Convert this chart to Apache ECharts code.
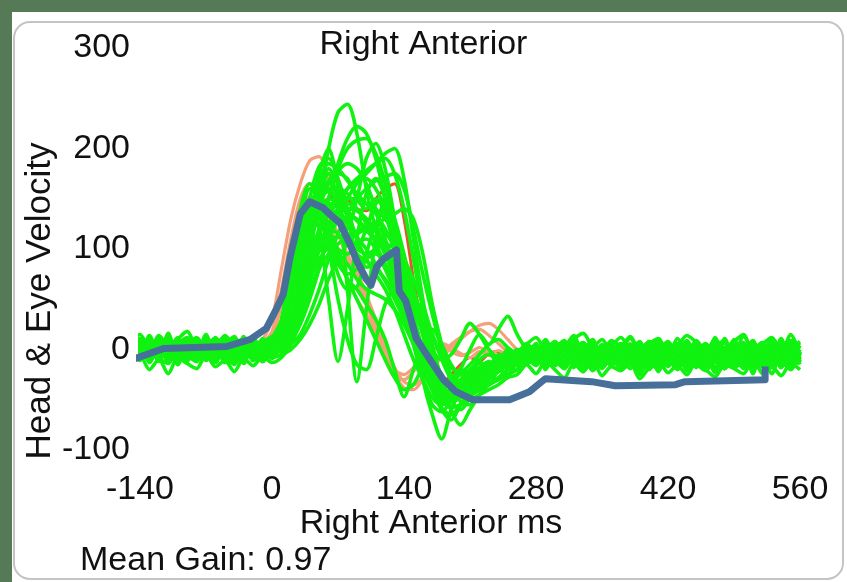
<!DOCTYPE html>
<html>
<head>
<meta charset="utf-8">
<script src="https://cdn.jsdelivr.net/npm/echarts@6/dist/echarts.min.js"></script>
<style>
html,body{margin:0;padding:0;background:#fff;}
#chart{width:847px;height:582px;}
</style>
</head>
<body>
<div id="chart"></div>
<script>
// ---------- data ----------
const chartTitle = "Right Anterior";
const xAxisTitle = "Right Anterior ms";
const yAxisTitle = "Head & Eye Velocity";
const footnote = "Mean Gain: 0.97";
const xTicks = [-140, 0, 140, 280, 420, 560];
const yTicks = [-100, 0, 100, 200, 300];

// shared sample times (ms) for the head/eye traces
const timeMs = [-150,-140,-130,-120,-110,-100,-90,-80,-70,-60,-50,-40,-30,-20,-10,0,
  10,20,30,40,50,60,70,80,90,100,110,120,130,140,150,160,170,180,190,200,210,220,230,240,250,260,
  270,280,290,300,310,320,330,340,350,360,370,380,390,400,410,420,430,440,450,460,470,480,490,500,510,520,530,540,550,560];

// head velocity traces (green)
const head01 = [-3,6,-8,4,-10,2,9,-5,3,-12,5,-2,8,-6,1,4, 12,30,62,105,150,200,236, 244,215,160,120,95,80,55,20,-15,-35,-45,-40,-30,-22,-14,-20,-8,-12,-4, -10,2,-14,-3,-18,-6,4,-9,-15,-2,6,-11,-4,-16,-1,8,-8,-13,0,-7,-19,-3,5,-10,-6,-14,2,-9,-4,-12];
const head02 = [5,-4,10,-7,3,-11,6,-2,12,-5,-9,7,-3,9,-6,0, 8,22,55,100,148,175,150, 120,150,190,205,180,130,80,35,0,-25,-38,-30,-20,-26,-12,-18,-5,-9,0, -4,-12,3,-8,-17,-1,7,-10,-5,-14,2,-7,-19,-4,6,-12,-2,-9,5,-15,-6,1,-11,-3,-16,4,-8,-13,-1,-6];
const head03 = [-8,3,-2,11,-6,7,-12,2,-4,8,0,-9,4,-3,10,-1, 6,40,95,150,182,190,170, 140,110,90,75,60,40,15,-10,-30,-48,-55,-50,-42,-30,-25,-16,-20,-10,-6, 1,-8,-14,3,-6,-11,6,-4,-17,-9,-1,5,-13,-7,0,-15,-3,9,-10,-5,-12,2,-8,-18,-2,7,-11,-6,3,-9];
const head04 = [2,-9,7,-4,12,-1,-7,5,-11,3,9,-5,-2,6,-8,3, 15,55,110,150,120,50,-12, 40,110,155,170,150,100,50,10,-20,-40,-52,-45,-38,-30,-22,-26,-14,-8,-12, -2,4,-10,-16,-5,2,-12,-7,5,-14,-3,-9,3,-18,-6,0,-11,-4,8,-13,-7,-1,-15,4,-9,-5,-17,-2,6,-10];
const head05 = [9,-3,1,-10,4,8,-6,-1,6,-8,2,11,-4,-7,5,-2, 10,35,80,130,175,200,160, 60,-32,40,110,150,120,70,20,-15,-40,-60,-70,-55,-40,-30,-35,-20,-15,-8, -6,2,-13,-8,4,-15,-3,-10,1,-7,-18,-5,3,-12,-9,6,-4,-16,-1,-11,2,-8,-14,-3,9,-12,-6,0,-10,-5];
const head06 = [-5,4,-12,1,7,-3,10,-8,0,5,-6,3,-10,2,8,-4, 0,10,30,55,85,110,130, 150,165,175,185,195,200,170,110,50,5,-30,-60,-75,-60,-45,-30,-20,-25,-12, -5,-14,0,-9,-3,5,-16,-7,-11,2,-4,-13,7,-8,-2,-17,-5,1,-12,-6,4,-10,-15,-1,6,-9,-3,-14,0,-7];
const head07 = [4,-6,9,-1,-9,6,2,-12,7,0,-4,10,-7,3,-2,6, 10,28,60,100,140,165,178, 185,180,165,140,110,85,60,30,0,-20,-35,-45,-38,-28,-18,-24,-10,-16,-6, -9,3,-5,-12,-1,7,-8,-15,-4,2,-11,-6,5,-14,-2,-9,1,-17,-7,4,-3,-12,-8,0,-15,-5,3,-10,-4,-13];
const head08 = [-10,1,5,-4,8,-7,3,11,-2,-9,4,-5,7,-11,0,2, 18,50,90,120,130,115,100, 95,105,110,100,80,60,45,40,25,0,-10,-5,10,26,15,0,-8,-3,-10, 3,-7,-15,-2,6,-10,-4,-13,1,-8,-16,-3,8,-9,-5,-12,2,-6,-18,-1,5,-11,-7,-14,0,-4,7,-13,-2,-8];
const head09 = [7,-2,-8,5,0,12,-5,4,-10,6,-3,1,9,-6,3,-8, 5,25,55,90,120,140,150, 160,168,170,160,140,110,70,20,-30,-65,-89,-60,-40,-30,-22,-15,-20,-8,-12, -4,5,-11,-6,-16,0,-9,3,-13,-7,-2,-15,6,-10,-5,-12,1,-8,-3,-17,4,-6,-11,-1,-14,2,-9,-5,7,-12];
const head10 = [-1,8,-6,3,-11,5,0,-4,10,-8,6,-3,2,-9,4,7, 25,70,125,160,150,120,90, 70,50,30,10,-10,-28,-40,-35,-20,-30,-45,-40,-20,0,15,5,20,33,15, 0,-8,-3,5,-12,-6,2,-15,-9,4,-4,-11,-1,8,-13,-7,0,-10,-16,-3,6,-8,-12,1,-5,-14,-2,3,-9,-6];
const head11 = [3,-7,6,1,-5,-12,8,-3,5,11,-6,0,-8,4,-4,9, 2,15,40,75,115,150,180, 200,208,210,195,165,120,70,25,-10,-35,-50,-45,-35,-25,-30,-18,-12,-20,-8, -1,-10,4,-6,-14,-3,7,-11,-5,1,-17,-8,3,-4,-12,5,-9,-2,-15,-6,8,-13,-1,-7,2,-16,-4,6,-11,-3];
const head12 = [-6,5,2,-9,10,-3,-1,7,-7,1,12,-4,5,-10,-3,0, 4,18,45,95,150,180,165, 130,100,120,145,150,130,95,55,15,-20,-42,-50,-40,-32,-20,-26,-14,-8,-16, -7,1,-12,-4,5,-9,-15,0,-6,3,-13,-2,-10,6,-8,-16,-1,4,-11,-5,0,-14,-7,2,-9,-3,-18,5,-6,-1];
const head13 = [1,-4,11,-8,2,6,-10,0,4,-6,8,-2,-11,7,1,-5, 10,45,100,135,140,120,95, 70,60,45,30,10,-20,-47,-20,5,20,5,-15,-25,-20,-10,-5,-12,0,-6, -12,-3,6,-9,-1,-14,3,-7,-5,-16,0,5,-10,-4,-13,2,-8,-6,7,-11,-2,-15,-9,1,-4,-12,4,-7,-17,-2];
const head14 = [-9,0,6,-3,-7,9,1,-11,3,8,-1,-6,11,-4,-9,2, 0,8,25,50,80,115,140, 160,170,178,185,190,175,140,90,40,0,-30,-50,-60,-48,-35,-25,-18,-10,-15, -5,2,-9,-13,0,-6,6,-12,-3,-8,-15,3,-7,-1,-11,5,-14,-4,-9,1,-17,-6,4,-10,-2,-13,7,-5,-8,-12];
const head15 = [6,-11,3,8,-4,-2,5,-9,1,-5,10,-7,0,4,-12,7, 12,38,78,120,150,168,175, 170,150,140,150,135,100,60,20,-15,-38,-48,-40,-32,-22,-28,-15,-10,-18,-5, -10,-4,3,-14,-7,0,-11,5,-6,-16,-2,-9,4,-13,-5,1,-10,-18,-3,6,-8,-12,0,-6,-15,3,-9,-4,-11,-7];
const head16 = [-4,9,-1,-6,5,-10,8,3,-7,2,-5,6,-1,10,-6,-3, 20,60,105,135,150,158,160, 155,140,130,120,105,80,50,25,0,-22,-35,-32,-25,-30,-18,-12,-20,-6,-10, -3,-9,1,-15,-6,4,-12,-2,-8,-14,5,-5,-10,0,-17,-7,2,-4,-13,-9,6,-1,-11,-16,-3,3,-8,-6,-14,0];
const head17 = [8,15,2,12,-1,10,18,4,9,0,14,6,11,-2,7,13, 20,45,85,120,140,150,145, 135,130,120,110,95,70,40,10,-20,-40,-50,-48,-42,-36,-30,-22,-15,-10,-5, 5,12,0,8,-4,10,16,2,-3,9,4,13,-1,6,11,-5,3,14,7,-2,10,1,8,15,-3,5,12,0,9,4];
const head18 = [-15,-6,-20,-10,-24,-8,-14,-19,-5,-17,-11,-22,-9,-16,-7,-13, -8,5,30,65,100,125,135, 140,138,130,118,100,80,55,25,-5,-30,-50,-58,-55,-50,-45,-40,-35,-28,-25, -15,-24,-12,-20,-28,-14,-22,-10,-26,-17,-21,-13,-29,-18,-11,-23,-16,-25,-12,-20,-27,-15,-19,-24,-10,-22,-17,-26,-14,-20];
const head19 = [12,-10,14,-8,16,-12,10,-6,15,-11,8,-14,13,-5,11,-9, 5,20,50,85,115,135,145, 150,150,145,140,130,115,90,60,25,-5,-25,-40,-45,-45,-40,-35,-30,-25,-20, -8,6,-20,2,-15,10,-22,0,-12,8,-18,4,-25,-3,9,-16,1,-21,5,-10,12,-19,-2,7,-24,3,-13,11,-17,-4];
const head20 = [-2,-10,3,-8,-14,0,-6,-12,2,-9,-4,-15,-1,-7,-11,-3, 0,10,30,55,80,95,105, 112,118,120,120,115,105,90,70,45,15,-10,-30,-40,-42,-38,-34,-30,-24,-20, -12,-6,-18,-9,-3,-15,-8,-20,-11,-5,-16,-7,-22,-13,-2,-10,-17,-6,-14,-21,-9,-4,-18,-12,-7,-24,-10,-15,-3,-13];
const head21 = [6,-3,9,1,-5,7,3,-8,10,0,5,-6,8,2,-4,11, 30,90,140,165,150,110,75, 60,62,95,125,140,120,70,25,-10,-35,-48,-52,-46,-38,-30,-28,-20,-16,-12, 2,-6,8,-3,-12,4,-9,1,10,-5,-14,3,-7,6,-2,-11,5,-8,9,-4,-13,0,7,-10,2,-6,11,-1,-9,4];
const head22 = [-6,3,-11,5,-2,8,-9,0,-4,6,-13,2,-7,9,-1,-5, 10,40,85,120,130,100,50, 10,-15,-20,10,45,60,40,5,-30,-55,-62,-50,-38,-30,-24,-18,-22,-12,-8, -14,-5,3,-10,-19,-2,5,-12,-7,-16,1,-9,-3,-20,-6,4,-13,-8,-1,-17,-4,6,-11,-15,-2,-9,2,-18,-7,-12];
const head23 = [3,11,-4,7,-8,5,12,-2,9,-6,4,13,-3,8,-9,6, -2,5,15,35,60,90,115, 135,150,160,168,172,175,160,120,75,35,0,-25,-40,-45,-40,-30,-22,-15,-10, 4,-3,10,-8,1,14,-5,7,-11,3,12,-2,-9,8,0,-6,11,-4,5,-12,2,9,-7,13,-1,-10,6,-3,15,-5];
const head24 = [-12,-3,6,-9,0,-15,4,-6,-10,2,-8,-14,5,-4,-11,1, 8,30,65,105,135,145,145, 138,128,118,110,100,88,72,55,35,15,-5,-18,-22,-15,-5,5,10,2,-5, -10,-2,-16,-7,3,-13,-5,-20,-9,0,-14,-6,-18,2,-11,-4,-15,-8,5,-12,-1,-17,-7,-3,-19,-9,1,-14,-6,-10];
const head25 = [5,-8,1,10,-4,-10,7,3,-6,12,-2,-9,4,8,-5,0, 0,12,35,70,110,150,185, 210,222,215,190,150,105,60,20,-15,-40,-58,-65,-55,-45,-35,-28,-20,-25,-12, -6,3,-12,-1,-17,5,-9,-4,-14,2,-8,-19,0,-11,7,-6,-15,-2,-10,4,-13,-7,1,-18,-3,6,-12,-8,-1,-15];
const head26 = [0,7,-5,14,2,-7,6,-1,11,-4,3,-10,8,-6,5,9, 14,48,100,140,158,160,140, 115,95,82,85,92,90,70,35,-5,-30,-42,-40,-34,-26,-18,-14,-20,-9,-13, 6,-4,-11,1,9,-7,-2,-15,4,-9,0,11,-6,-13,3,-3,-10,7,-8,-16,2,-5,10,-12,-1,-7,5,-14,0,8];
const head27 = [-7,-1,8,-12,3,-5,1,9,-9,-3,7,0,-14,4,-2,-8, -5,0,10,25,45,70,90, 105,115,120,125,130,135,140,130,95,45,5,-30,-52,-55,-45,-35,-28,-20,-15, -9,-16,-3,5,-12,-6,-20,-1,-10,3,-17,-7,-13,1,-22,-5,-11,4,-15,-8,-2,-19,-6,2,-14,-9,-24,-4,-11,-3];
const head28 = [10,2,-6,6,-11,1,-3,8,-7,4,13,-1,-8,3,-12,6, 15,42,88,130,165,185,180, 168,155,145,135,120,100,75,45,15,-15,-40,-48,-40,-30,-22,-16,-10,-14,-4, -13,0,-7,6,-16,-4,-9,2,-19,-6,5,-11,-1,-15,3,-8,-20,-2,7,-12,-5,-17,1,-9,4,-14,-6,-1,-18,-10];
const head29 = [4,-9,2,7,-6,11,-3,-10,5,1,-7,9,-2,6,-12,3, 25,65,100,118,125,122,115, 105,95,88,80,70,55,35,15,-8,-28,-42,-46,-40,-33,-26,-20,-15,-18,-9, -2,-11,5,-7,-15,0,-5,-13,3,-9,-18,-4,6,-10,-1,-14,2,-8,-16,-3,4,-12,-6,-19,-1,5,-9,-14,-4,-8];
const head30 = [-11,2,-5,9,-1,-8,4,12,-4,-13,6,-2,10,-7,0,-6, 5,22,50,78,98,110,112, 108,100,95,100,105,100,80,50,15,-15,-35,-45,-42,-36,-28,-22,-17,-12,-10, -8,2,-14,-5,4,-12,-1,-17,-6,3,-10,-15,1,-8,-20,-3,6,-11,-4,-13,0,-9,-16,-2,5,-7,-14,-1,-10,-5];
const head31 = [7,0,-6,3,9,-4,-11,5,2,-8,12,-1,-5,8,-9,1, 8,35,72,100,115,105,85, 75,80,90,95,85,65,40,15,-12,-32,-45,-50,-46,-38,-30,-24,-18,-14,-8, 3,-9,-2,8,-12,-5,1,-15,-7,4,-11,-3,7,-13,-6,-1,-16,2,-9,-4,6,-14,-8,0,-12,-3,9,-10,-17,-2];
const head32 = [-3,10,-8,1,-12,6,-1,3,-9,7,-4,-11,4,-6,9,-2, 3,18,45,70,90,100,95, 85,70,60,55,50,40,25,5,-15,-35,-48,-52,-48,-40,-32,-25,-20,-15,-12, -12,-4,-18,-8,1,-14,-6,-21,-10,-2,-16,-7,3,-12,-19,-5,-11,0,-15,-8,-23,-3,-13,-9,-1,-17,-6,-11,-20,-4];
const head33 = [5,-5,8,-10,0,4,-7,10,-3,-12,2,7,-8,1,5,-4, 12,40,80,112,130,138,135, 125,112,100,85,68,50,30,10,-10,-28,-40,-44,-38,-30,-22,-16,-12,-8,-4, 6,-6,0,-13,4,-8,-3,10,-11,-1,-6,5,-15,-2,8,-9,-4,3,-12,0,-7,11,-10,-5,2,-14,-1,7,-8,-3];
const head34 = [-2,4,-13,8,-6,0,6,-9,11,-1,-5,3,-10,12,-3,-7, 2,14,38,68,100,125,140, 145,140,125,105,85,60,38,15,-5,-25,-38,-44,-40,-32,-25,-20,-14,-10,-6, -14,-7,2,-11,-4,-18,-1,6,-9,-15,-3,-12,4,-7,-16,0,-10,-5,3,-13,-8,-19,-2,5,-11,-6,-15,1,-9,-4];

// eye velocity traces (salmon / red)
const eye01 = [2,-5,6,-3,4,-6,1,5,-4,3,-2,6,-1,4,10,30, 80,130,165,188,192,170,140, 110,80,55,30,5,-18,-32,-35,-28,-18,-8,2,10,18,24,26,20,10,0, -4,3,-6,2,-5,4,-3,-7,1,-4,5,-2,-6,3,-1,-5,2,-4,6,-3,-7,1,-2,4,-5,0,-6,3,-3,-1];
const eye02 = [-3,4,-1,5,-6,2,-2,6,0,-5,3,-3,5,-2,2,12, 45,95,135,152,150,135,115, 90,70,45,20,-5,-25,-38,-40,-30,-15,-5,5,12,18,20,14,6,-2,-6, 2,-5,4,-3,-8,1,-4,5,-6,0,-3,6,-5,-1,3,-7,2,-4,4,-2,-6,1,-3,5,-5,-1,2,-4];
const eye03 = [4,-2,3,-6,1,5,-3,-1,6,-4,2,-5,1,3,5,8, 30,70,105,125,130,128,115, 95,75,50,25,0,-20,-25,-18,-8,0,4,-2,-6,-3,2,-4,-8,-2,-6, -3,4,-7,1,-5,3,-2,-6,4,-1,-8,2,-4,5,-3,-6,1,-2,3,-5,0,-7,2,-3,-1,4,-6,1];
const eye04 = [-1,3,-4,2,-2,5,-5,1,3,-3,4,-2,0,3,-4,2, 10,35,70,110,140,150,155, 150,140,138,150,160,165,130,70,20,-20,-35,-25,-15,-8,-12,-4,-2,-8,-3, 1,-5,3,-2,-7,2,-4,4,-1,-6,3,-3,-5,2,-2,-6,4,-1,-4,3,-5,0,-3,5,-6,-2,2,-4];
const eye05 = [3,-4,1,4,-3,2,-5,4,-2,1,5,-3,2,-4,6,18, 60,110,150,165,160,130,100, 70,50,35,15,-10,-28,-30,-22,-10,-2,6,2,-4,-8,-2,-6,-1,-5,-3, -6,2,-3,5,-4,-1,3,-5,0,4,-7,2,-2,-4,5,-3,1,-6,3,-2,-5,2,-1,-6,4,-3,0,-4];

// mean / reference trace (thick blue line), [ms, value]
const meanTimes  = [-148,-115,-48,-23,-6,5,12,19,30,40,54,62,72,82,90,100,105,111,118,132,135,142,153,164,181,195,213,252,273,290,339,364,428,438,523,523];
const meanValues = [-10,1,3,10,21,41,55,91,135,147,141,134,126,106,88,70,64,82,90,99,58,48,11,-5,-29,-42,-50,-50,-42,-29,-32,-36,-35,-32,-30,-17];

const headTraces = [head01,head02,head03,head04,head05,head06,head07,head08,head09,head10,head11,head12,head13,head14,
  head15,head16,head17,head18,head19,head20,head21,head22,head23,head24,head25,head26,head27,head28,
  head29,head30,head31,head32,head33,head34];
const eyeTraces = [eye01,eye02,eye03,eye05];
const eyeRedTraces = [eye04];

// ---------- chart ----------
function pairs(xs, ys){ return xs.map((x,i)=>[x, ys[i]]); }
const FONT = '"Liberation Sans", Arial, sans-serif';
const TXT = '#111111';
const series = [];
eyeRedTraces.forEach(tr => series.push({type:'line', data:pairs(timeMs,tr), showSymbol:false, smooth:0.3, clip:false, silent:true,
  lineStyle:{color:'#e8532e', width:3}, z:2}));
eyeTraces.forEach(tr => series.push({type:'line', data:pairs(timeMs,tr), showSymbol:false, smooth:0.3, clip:false, silent:true,
  lineStyle:{color:'#f4a07a', width:3.2}, z:2}));
headTraces.forEach(tr => series.push({type:'line', data:pairs(timeMs,tr), showSymbol:false, smooth:0.3, clip:false, silent:true,
  lineStyle:{color:'#10f210', width:3.6}, z:3}));
series.push({type:'line', data:pairs(meanTimes,meanValues), showSymbol:false, clip:false, silent:true,
  lineStyle:{color:'#46709a', width:7, join:'round', cap:'butt'}, z:5});

const chart = echarts.init(document.getElementById('chart'), null, {renderer:'canvas'});
chart.setOption({
  animation:false,
  backgroundColor:'#ffffff',
  graphic:[
    {type:'rect', shape:{x:0,y:0,width:847,height:12}, style:{fill:'#567a56'}, z:-10},
    {type:'rect', shape:{x:0,y:0,width:12,height:582}, style:{fill:'#567a56'}, z:-10},
    {type:'rect', shape:{x:14,y:22,width:829,height:557,r:16}, style:{fill:'#ffffff', stroke:'#c4c4c4', lineWidth:2}, z:-9},
    {type:'text', left:'center', top:28, style:{text:chartTitle, font:'34px '+FONT, fill:TXT}, z:10},
    {type:'text', x:431, y:524, style:{text:xAxisTitle, font:'34px '+FONT, fill:TXT, textAlign:'center', textVerticalAlign:'middle'}, z:10},
    {type:'text', x:80, y:561, style:{text:footnote, font:'34px '+FONT, fill:TXT, textAlign:'left', textVerticalAlign:'middle'}, z:10},
    {type:'text', x:40, y:301, rotation:Math.PI/2, style:{text:yAxisTitle, font:'35px '+FONT, fill:TXT, textAlign:'center', textVerticalAlign:'middle'}, z:10}
  ],
  grid:{left:140, right:47, top:48, bottom:132},
  xAxis:{type:'value', min:xTicks[0], max:xTicks[xTicks.length-1], interval:140,
    axisLine:{show:false}, axisTick:{show:false}, splitLine:{show:false},
    axisLabel:{fontSize:34, fontFamily:FONT, color:TXT, margin:23}},
  yAxis:{type:'value', min:yTicks[0], max:yTicks[yTicks.length-1], interval:100,
    axisLine:{show:false}, axisTick:{show:false}, splitLine:{show:false},
    axisLabel:{fontSize:34, fontFamily:FONT, color:TXT, margin:10}},
  series:series
});
</script>
</body>
</html>
